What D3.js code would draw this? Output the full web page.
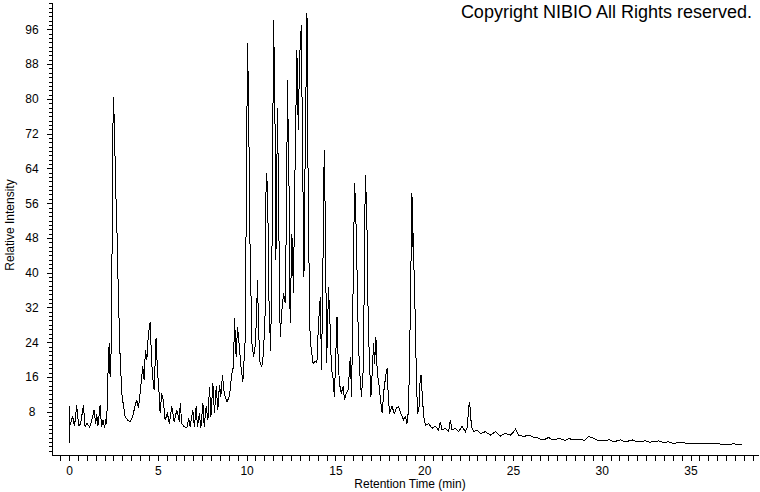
<!DOCTYPE html>
<html>
<head>
<meta charset="utf-8">
<script src="https://cdn.jsdelivr.net/npm/d3@7"></script>
<style>
  body { margin: 0; background: #fff; }
  svg { display: block; font-family: "Liberation Sans", Arial, sans-serif; }
</style>
</head>
<body>
<div id="canvas"></div>
<script>
// retention time (min) and relative intensity
const retentionTime = [
  0.00, 0.01, 0.06, 0.20, 0.31, 0.43, 0.54, 0.65, 0.81, 0.90, 1.01, 1.16, 1.27, 1.41, 1.50, 1.56, 1.63, 1.75, 1.83, 1.92, 2.00, 2.06, 2.12,
  2.18, 2.24, 2.27, 2.31, 2.35, 2.41, 2.46, 2.50, 2.55, 2.63, 2.69, 2.78, 2.87, 2.97, 3.06, 3.16, 3.29, 3.44, 3.59, 3.72, 3.82, 3.91, 4.00,
  4.15, 4.23, 4.30, 4.38, 4.47, 4.57, 4.62, 4.69, 4.79, 4.90, 4.98, 5.06, 5.13, 5.22, 5.31, 5.41, 5.54, 5.65, 5.79, 5.92, 6.07, 6.22,
  6.26, 6.35, 6.48, 6.63, 6.74, 6.82, 6.97, 7.06, 7.16, 7.23, 7.34, 7.42, 7.54, 7.61, 7.72, 7.82, 7.91, 7.99, 8.10, 8.19, 8.29, 8.38,
  8.47, 8.55, 8.64, 8.74, 8.89, 9.03, 9.17, 9.26, 9.32, 9.41, 9.49, 9.56, 9.68, 9.79, 9.92,
  9.99, 10.05, 10.11, 10.16, 10.20, 10.26, 10.30, 10.39, 10.48, 10.56, 10.61, 10.69, 10.76, 10.86, 10.95, 11.05, 11.10, 11.18, 11.26,
  11.35, 11.42, 11.52, 11.59, 11.65, 11.74, 11.82, 11.89, 11.99, 12.08, 12.17, 12.25, 12.30, 12.40, 12.45, 12.55, 12.64, 12.70, 12.83,
  12.91, 12.98, 13.08, 13.15, 13.23, 13.30, 13.40, 13.47, 13.54, 13.58, 13.74, 13.86, 13.96, 14.05, 14.15, 14.22, 14.30, 14.37, 14.45,
  14.50, 14.56, 14.61, 14.69, 14.78, 14.86, 14.94, 15.01, 15.09, 15.16, 15.23, 15.33, 15.43, 15.52, 15.61, 15.72, 15.84, 15.91, 15.99,
  16.08, 16.14, 16.21, 16.29, 16.36, 16.47, 16.59, 16.64, 16.70, 16.78, 16.85, 16.93, 17.00, 17.08, 17.15, 17.21, 17.28, 17.36, 17.45,
  17.54, 17.64, 17.71, 17.83, 17.91, 17.98, 18.05, 18.19, 18.32, 18.43, 18.56, 18.69, 18.84, 18.95, 19.03,
  19.12, 19.22, 19.31, 19.37, 19.41, 19.44, 19.50, 19.56, 19.63, 19.71, 19.78, 19.82, 19.90, 19.97, 20.08, 20.25, 20.44, 20.63, 20.81,
  20.91, 21.01, 21.19, 21.38, 21.47, 21.57, 21.75, 21.94, 22.13, 22.32, 22.41, 22.49, 22.54, 22.60, 22.66, 22.79, 22.98, 23.16, 23.45,
  23.73, 24.01, 24.29, 24.57, 24.85, 25.02, 25.14, 25.32, 25.60, 25.89, 26.17,
  26.36, 26.55, 26.73, 27.01, 27.19, 27.39, 27.59, 27.77, 27.95, 28.14, 28.52, 28.80, 29.02, 29.27, 29.55, 29.83, 30.21, 30.43, 30.68,
  31.06, 31.28, 31.52, 31.73, 32.00, 32.46, 32.69, 32.93, 33.20, 33.50, 33.76, 34.05, 34.32, 34.62, 34.89, 35.19, 35.75, 36.50, 36.97,
  37.25, 37.44, 37.63, 37.91
];
const relIntensity = [
  0.8, 9.2, 5.0, 6.9, 4.7, 9.5, 4.8, 5.2, 9.5, 4.6, 5.3, 4.5, 5.8, 8.4, 5.2, 7.4, 4.8, 9.5, 4.6, 6.1, 4.3, 5.9, 5.3,
  15.3, 22.2, 23.8, 16.0, 16.5, 37.6, 70.5, 80.5, 74.4, 59.0, 51.4, 34.5, 21.4, 12.2, 9.5, 6.9, 6.1, 5.7, 6.9, 9.5, 10.7, 8.8, 12.2,
  18.4, 15.3, 22.2, 19.9, 26.0, 28.7, 23.0, 16.8, 13.0, 24.9, 17.6, 13.0, 7.6, 12.2, 10.7, 6.1, 7.6, 5.3, 9.2, 5.7, 8.4, 5.7,
  9.9, 5.3, 4.6, 4.3, 6.5, 4.6, 8.4, 4.6, 9.2, 4.6, 7.6, 4.2, 9.9, 4.6, 9.2, 6.1, 13.8, 6.9, 14.5, 7.6, 13.8, 8.4,
  14.2, 11.5, 16.5, 12.2, 10.3, 11.5, 16.8, 18.4, 29.5, 20.7, 27.6, 24.5, 18.4, 14.9, 24.5,
  60.0, 92.8, 79.7, 58.3, 43.7, 32.2, 23.8, 20.7, 23.0, 30.0, 38.3, 25.3, 19.1, 18.4, 21.4, 31.4, 62.9, 59.8, 33.7,
  22.0, 40.0, 98.2, 79.7, 42.9, 77.8, 49.0, 25.3, 31.4, 35.3, 33.0, 55.0, 84.4, 56.7, 28.4, 49.0, 35.3, 56.7, 91.3,
  72.8, 89.0, 97.0, 68.2, 39.1, 68.2, 99.7, 56.7, 33.7, 24.5, 19.1, 19.6, 19.4, 28.4, 34.5, 17.6, 42.2, 68.2, 47.5,
  19.1, 26.8, 36.8, 29.1, 17.6, 16.1, 11.5, 19.4, 29.9, 19.4, 14.5, 12.2, 13.8, 10.7, 12.2, 13.0, 20.7, 11.5, 34.5,
  60.6, 55.2, 42.2, 25.3, 17.6, 11.5, 19.1, 49.8, 62.5, 49.8, 28.4, 18.4, 11.5, 17.6, 23.8, 19.1, 25.3, 16.8, 14.5,
  10.7, 7.6, 12.2, 16.1, 18.0, 11.5, 7.6, 9.2, 7.6, 8.8, 9.2, 7.6, 6.1, 6.9, 5.3,
  8.4, 30.7, 58.3, 46.0, 49.1, 34.5, 30.7, 15.3, 7.6, 9.2, 16.1, 16.5, 11.5, 6.9, 4.9, 5.3, 4.2, 4.6, 3.8,
  5.7, 3.8, 4.2, 3.4, 6.1, 3.8, 4.2, 3.4, 4.6, 3.4, 4.2, 7.6, 10.3, 8.4, 4.6, 3.4, 3.8, 3.0, 3.4,
  2.6, 3.4, 2.4, 3.0, 2.6, 3.3, 4.0, 2.6, 2.3, 2.6, 2.1,
  2.1, 1.7, 1.5, 2.1, 1.6, 1.5, 1.9, 1.65, 1.4, 1.8, 1.5, 1.65, 1.4, 2.3, 1.9, 1.27, 1.3, 1.6, 1.1,
  1.5, 1.1, 1.27, 1.5, 1.1, 1.3, 1.0, 1.1, 1.3, 0.9, 1.1, 0.7, 0.9, 0.85, 0.7, 0.8, 0.58, 0.58, 0.55,
  0.5, 0.7, 0.35, 0.35
];
const xTickLabels = [0, 5, 10, 15, 20, 25, 30, 35];
const yTickLabels = [8, 16, 24, 32, 40, 48, 56, 64, 72, 80, 88, 96];

const data = retentionTime.map((t, i) => ({ t: t, v: relIntensity[i] }));

const width = 760;
const height = 492;

const svg = d3.select("#canvas").append("svg")
  .attr("width", width)
  .attr("height", height);

const x = d3.scaleLinear()
  .domain([-0.96, 38.8])
  .range([52, 758]);
const y = d3.scaleLinear()
  .domain([-1.96, 102.3])
  .range([455, 2]);

// y axis: minor tick every unit, labelled every 8
svg.append("g")
  .attr("transform", "translate(52,0)")
  .call(d3.axisLeft(y).tickValues(d3.range(-1, 103)).tickSize(3).tickSizeOuter(0).tickFormat(""))
  .call(g => g.select(".domain").remove())
  .attr("shape-rendering", "crispEdges");

svg.append("g")
  .classed("y--axis", true)
  .attr("transform", "translate(52,0)")
  .call(d3.axisLeft(y).tickValues(yTickLabels).tickSize(5).tickSizeOuter(0))
  .attr("shape-rendering", "crispEdges")
  .call(g => g.selectAll("text")
    .attr("x", -20)
    .attr("text-anchor", "middle")
    .style("font-size", "12px")
    .attr("fill", "#000"));

// x axis: tick every half minute, labelled every 5
svg.append("g")
  .attr("transform", "translate(0,455)")
  .call(d3.axisBottom(x).tickValues(d3.range(-0.5, 38.8, 0.5)).tickSize(6).tickSizeOuter(0).tickFormat(""))
  .attr("shape-rendering", "crispEdges");

svg.append("g")
  .classed("x--axis", true)
  .attr("transform", "translate(0,455)")
  .call(d3.axisBottom(x).tickValues(xTickLabels).tickSize(6).tickSizeOuter(0))
  .attr("shape-rendering", "crispEdges")
  .call(g => g.selectAll("text")
    .attr("y", 20)
    .attr("dy", null)
    .style("font-size", "12px")
    .attr("fill", "#000"));

// trace
const line = d3.line()
  .x(d => x(d.t))
  .y(d => y(d.v));

svg.append("path")
  .datum(data)
  .attr("d", line)
  .attr("fill", "none")
  .attr("stroke", "#000")
  .attr("stroke-width", 1)
  .attr("shape-rendering", "crispEdges");

// titles
svg.append("text")
  .attr("transform", "translate(13.5,225) rotate(-90)")
  .attr("text-anchor", "middle")
  .style("font-size", "12px")
  .text("Relative Intensity");

svg.append("text")
  .attr("x", 410)
  .attr("y", 488)
  .attr("text-anchor", "middle")
  .style("font-size", "12px")
  .text("Retention Time (min)");

svg.append("text")
  .attr("x", 752)
  .attr("y", 17.5)
  .attr("text-anchor", "end")
  .style("font-size", "18px")
  .text("Copyright NIBIO All Rights reserved.");
</script>
</body>
</html>
